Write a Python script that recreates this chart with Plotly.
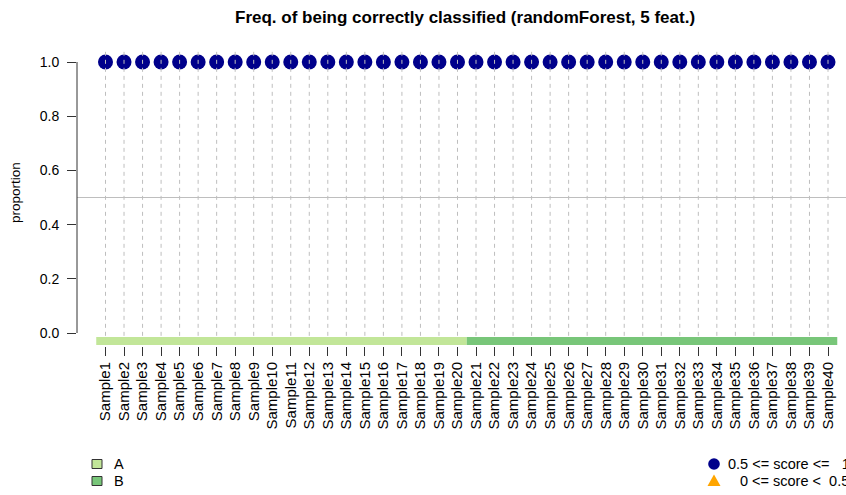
import plotly.graph_objects as go

# ---------------- data ----------------
samples = ["Sample1", "Sample2", "Sample3", "Sample4", "Sample5", "Sample6", "Sample7",
           "Sample8", "Sample9", "Sample10", "Sample11", "Sample12", "Sample13", "Sample14",
           "Sample15", "Sample16", "Sample17", "Sample18", "Sample19", "Sample20", "Sample21",
           "Sample22", "Sample23", "Sample24", "Sample25", "Sample26", "Sample27", "Sample28",
           "Sample29", "Sample30", "Sample31", "Sample32", "Sample33", "Sample34", "Sample35",
           "Sample36", "Sample37", "Sample38", "Sample39", "Sample40"]
proportion = [1.0, 1.0, 1.0, 1.0, 1.0, 1.0, 1.0, 1.0, 1.0, 1.0,
              1.0, 1.0, 1.0, 1.0, 1.0, 1.0, 1.0, 1.0, 1.0, 1.0,
              1.0, 1.0, 1.0, 1.0, 1.0, 1.0, 1.0, 1.0, 1.0, 1.0,
              1.0, 1.0, 1.0, 1.0, 1.0, 1.0, 1.0, 1.0, 1.0, 1.0]
groups = ["A", "A", "A", "A", "A", "A", "A", "A", "A", "A",
          "A", "A", "A", "A", "A", "A", "A", "A", "A", "A",
          "B", "B", "B", "B", "B", "B", "B", "B", "B", "B",
          "B", "B", "B", "B", "B", "B", "B", "B", "B", "B"]
group_names = ["A", "B"]
group_colors = {"A": "#C2E699", "B": "#78C679"}
score_labels = ["0.5 <= score <=\u00a0\u00a0\u00a01", "0 <= score <\u00a0\u00a00.5"]
score_colors = ["#00008B", "#FFA500"]
y_ticks = [0.0, 0.2, 0.4, 0.6, 0.8, 1.0]
threshold = 0.5
title = "Freq. of being correctly classified (randomForest, 5 feat.)"

FONT = "Liberation Sans, Arial, sans-serif"
W, H = 846, 495
L, R, T, B = 77, 0, 51, 149
PW, PH = W - L - R, H - T - B


def px(xp):
    return (xp - L) / PW


def py(yp):
    return (H - B - yp) / PH


pos = list(range(1, len(samples) + 1))
hi_x = [p for p, v in zip(pos, proportion) if v >= threshold]
hi_y = [v for v in proportion if v >= threshold]
lo_x = [p for p, v in zip(pos, proportion) if v < threshold]
lo_y = [v for v in proportion if v < threshold]

fig = go.Figure()

fig.add_trace(go.Scatter(
    x=hi_x, y=hi_y, mode="markers", name=score_labels[0],
    marker=dict(symbol="circle", size=15, color=score_colors[0], line=dict(width=0)),
    hoverinfo="skip", showlegend=False))
fig.add_trace(go.Scatter(
    x=lo_x, y=lo_y, mode="markers", name=score_labels[1],
    marker=dict(symbol="triangle-up", size=15, color=score_colors[1], line=dict(width=0)),
    hoverinfo="skip", showlegend=False))

shapes = []
# dashed vertical guide lines (drawn over points)
for p in pos:
    shapes.append(dict(type="line", xref="x", yref="y", x0=p, x1=p, y0=-0.04, y1=1.04,
                       line=dict(color="#BEBEBE", width=1, dash="4px,4px"), layer="above"))
# threshold line
shapes.append(dict(type="line", xref="paper", yref="y", x0=0, x1=1, y0=threshold, y1=threshold,
                   line=dict(color="#BEBEBE", width=1), layer="above"))
# group colour bar
start = 0
for i in range(1, len(groups) + 1):
    if i == len(groups) or groups[i] != groups[start]:
        shapes.append(dict(type="rect", xref="x", yref="y",
                           x0=pos[start] - 0.5, x1=pos[i - 1] + 0.5,
                           y0=-0.0443, y1=-0.0148,
                           fillcolor=group_colors[groups[start]], line=dict(width=0),
                           layer="above"))
        start = i
# y axis line (R style, spanning the ticks only)
shapes.append(dict(type="line", xref="paper", yref="y", x0=0, x1=0, y0=min(y_ticks), y1=max(y_ticks),
                   line=dict(color="#333333", width=1), layer="above"))

annotations = [
    dict(text="<b>" + title + "</b>", xref="paper", yref="paper",
         x=px(465), y=py(17), xanchor="center", yanchor="middle", showarrow=False,
         font=dict(family=FONT, size=17, color="#000000")),
    dict(text="proportion", xref="paper", yref="paper",
         x=px(15), y=py(193), xanchor="center", yanchor="middle", textangle=-90,
         showarrow=False, font=dict(family=FONT, size=13.5, color="#000000")),
]

# ---- manual legends ----
row_y = [464, 481]
LEG_FS = 14.5
# group legend (bottom left)
for g, yy in zip(group_names, row_y):
    shapes.append(dict(type="rect", xref="paper", yref="paper",
                       x0=px(92), x1=px(102), y0=py(yy + 4.5), y1=py(yy - 4.5),
                       fillcolor=group_colors[g], line=dict(color="#333333", width=1)))
    annotations.append(dict(text=g, xref="paper", yref="paper", x=px(112), y=py(yy),
                            xanchor="left", yanchor="middle", showarrow=False,
                            font=dict(family=FONT, size=LEG_FS, color="#000000")))
# score legend (bottom right)
cx = 714
shapes.append(dict(type="circle", xref="paper", yref="paper",
                   x0=px(cx - 5.8), x1=px(cx + 5.8), y0=py(row_y[0] + 5.8), y1=py(row_y[0] - 5.8),
                   fillcolor=score_colors[0], line=dict(width=0)))
ty = row_y[1]
tri = "M {:.5f} {:.5f} L {:.5f} {:.5f} L {:.5f} {:.5f} Z".format(
    px(cx - 6.5), py(ty + 5), px(cx + 6.5), py(ty + 5), px(cx), py(ty - 6.5))
shapes.append(dict(type="path", xref="paper", yref="paper", path=tri,
                   fillcolor=score_colors[1], line=dict(width=0)))
annotations.append(dict(text=score_labels[0], xref="paper", yref="paper", x=px(726), y=py(row_y[0]),
                        xanchor="left", yanchor="middle", showarrow=False,
                        font=dict(family=FONT, size=LEG_FS, color="#000000")))
annotations.append(dict(text=score_labels[1], xref="paper", yref="paper", x=px(738), y=py(row_y[1]),
                        xanchor="left", yanchor="middle", showarrow=False,
                        font=dict(family=FONT, size=LEG_FS, color="#000000")))

px_per_unit = 18.5256
x0 = pos[0] - (105.5 - L) / px_per_unit
x1 = x0 + PW / px_per_unit
y_top = (333 - T) / 271.0
y_bot = (333 - (H - B)) / 271.0

fig.update_layout(
    width=W, height=H,
    margin=dict(l=L, r=R, t=T, b=B, pad=0, autoexpand=False),
    paper_bgcolor="white", plot_bgcolor="white",
    font=dict(family=FONT, size=14, color="#000000"),
    showlegend=False,
    shapes=shapes,
    annotations=annotations,
    xaxis=dict(range=[x0, x1], tickvals=pos, ticktext=samples, tickangle=-90,
               ticks="outside", ticklen=9, tickwidth=1, tickcolor="#333333",
               showgrid=False, zeroline=False, showline=False, automargin=False,
               tickfont=dict(family=FONT, size=15, color="#000000")),
    yaxis=dict(range=[y_bot, y_top], tickvals=y_ticks, ticktext=[f"{v:.1f}" for v in y_ticks],
               ticks="outside", ticklen=9, tickwidth=1, tickcolor="#333333",
               ticklabelstandoff=5,
               showgrid=False, zeroline=False, showline=False, automargin=False,
               tickfont=dict(family=FONT, size=14, color="#000000")),
)

fig.write_html("out.html", config={"displayModeBar": False},
               post_script="document.body.style.margin='0px';document.body.style.overflow='hidden';")
